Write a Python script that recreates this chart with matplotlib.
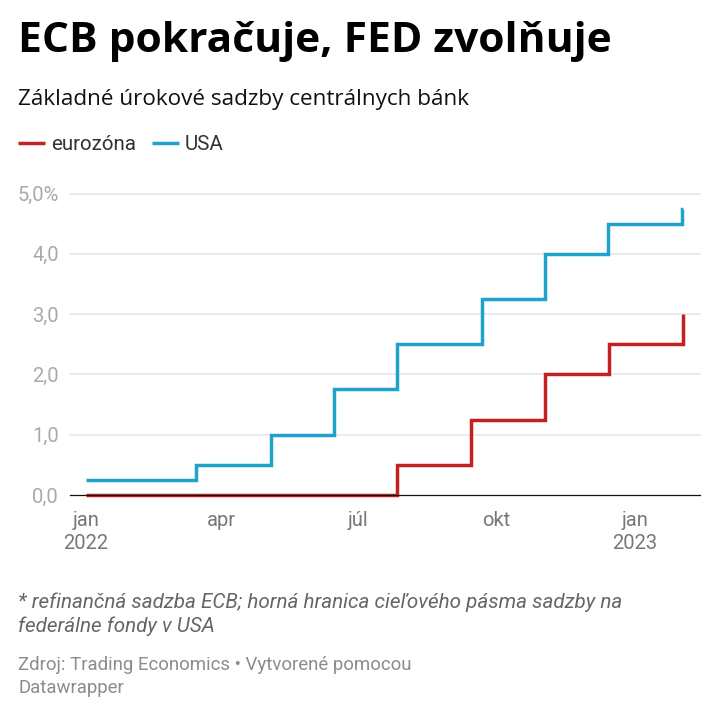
import matplotlib
matplotlib.use("Agg")
import matplotlib.pyplot as plt
import matplotlib.dates as mdates
from datetime import datetime as dt

usa_dates = ["2022-01-01", "2022-03-15", "2022-05-04", "2022-06-15", "2022-07-27",
             "2022-09-21", "2022-11-02", "2022-12-14", "2023-02-01", "2023-02-02"]
usa_rates = [0.25, 0.5, 1.0, 1.75, 2.5, 3.25, 4.0, 4.5, 4.75, 4.75]

euro_dates = ["2022-01-01", "2022-07-27", "2022-09-14", "2022-11-02", "2022-12-15", "2023-02-02"]
euro_rates = [0.0, 0.5, 1.25, 2.0, 2.5, 3.0]

x_ticks = ["2022-01-01", "2022-04-01", "2022-07-01", "2022-10-01", "2023-01-01"]
x_labels = ["jan\n2022", "apr", "júl", "okt", "jan\n2023"]
y_ticks = [0, 1, 2, 3, 4, 5]
y_labels = ["0,0", "1,0", "2,0", "3,0", "4,0", "5,0%"]

BLUE = "#1fa3cb"
RED = "#c4201f"


def to_dates(items):
    return [dt.strptime(d, "%Y-%m-%d") for d in items]


fig = plt.figure(figsize=(7.2, 7.2), dpi=100)
ax = fig.add_axes([70 / 720, 1 - 495 / 720, 630 / 720, 301.5 / 720])

ax.plot(to_dates(euro_dates), euro_rates, color=RED, lw=2.5, drawstyle="steps-post",
        solid_joinstyle="miter", solid_capstyle="butt", clip_on=False, zorder=3, label="eurozóna")
ax.plot(to_dates(usa_dates), usa_rates, color=BLUE, lw=2.5, drawstyle="steps-post",
        solid_joinstyle="miter", solid_capstyle="butt", clip_on=False, zorder=3, label="USA")

ax.set_ylim(0, 5)
start = mdates.date2num(dt(2022, 1, 1))
ax.set_xlim(start - 10.6, start + 408.2)

ax.set_yticks(y_ticks)
ax.set_yticklabels(y_labels, fontname="Roboto", fontsize=14.5, color="#a9a9a9")
ax.set_xticks(to_dates(x_ticks))
ax.set_xticklabels(x_labels, fontname="Roboto", fontsize=14.5, color="#777777", linespacing=1.3)
ax.tick_params(axis="y", length=0, pad=8)
ax.tick_params(axis="x", length=0, pad=11.5)

for y in y_ticks[1:]:
    ax.axhline(y, color="#e6e6e6", lw=1.1, zorder=1, clip_on=False)
ax.axhline(0, color="#111111", lw=0.9, zorder=4, clip_on=False)
for side in ax.spines.values():
    side.set_visible(False)

fig.text(18 / 720, 1 - 42 / 720, "ECB pokračuje, FED zvolňuje", fontname="Open Sans",
         fontweight="bold", fontsize=30.6, va="center", color="#000000")
fig.text(18 / 720, 1 - 99 / 720, "Základné úrokové sadzby centrálnych bánk", fontname="Open Sans",
         fontsize=16.2, va="center", color="#111111")

fig.legend(loc="center left", bbox_to_anchor=(18 / 720, 1 - 145 / 720), ncol=2, frameon=False,
           prop={"family": "Roboto", "size": 14.8}, labelcolor="#333333", borderpad=0, borderaxespad=0,
           handlelength=1.32, handletextpad=0.3, columnspacing=0.75)

fig.text(18 / 720, 1 - 614 / 720,
         "* refinančná sadzba ECB; horná hranica cieľového pásma sadzby na\nfederálne fondy v USA",
         fontname="Roboto", style="italic", fontsize=14.9, va="center", color="#666666", linespacing=1.3)
fig.text(18 / 720, 1 - 676.5 / 720, "Zdroj: Trading Economics • Vytvorené pomocou\nDatawrapper",
         fontname="Roboto", fontsize=13.45, va="center", color="#8c8c8c", linespacing=1.35)

fig.savefig("out.png", dpi=100)
